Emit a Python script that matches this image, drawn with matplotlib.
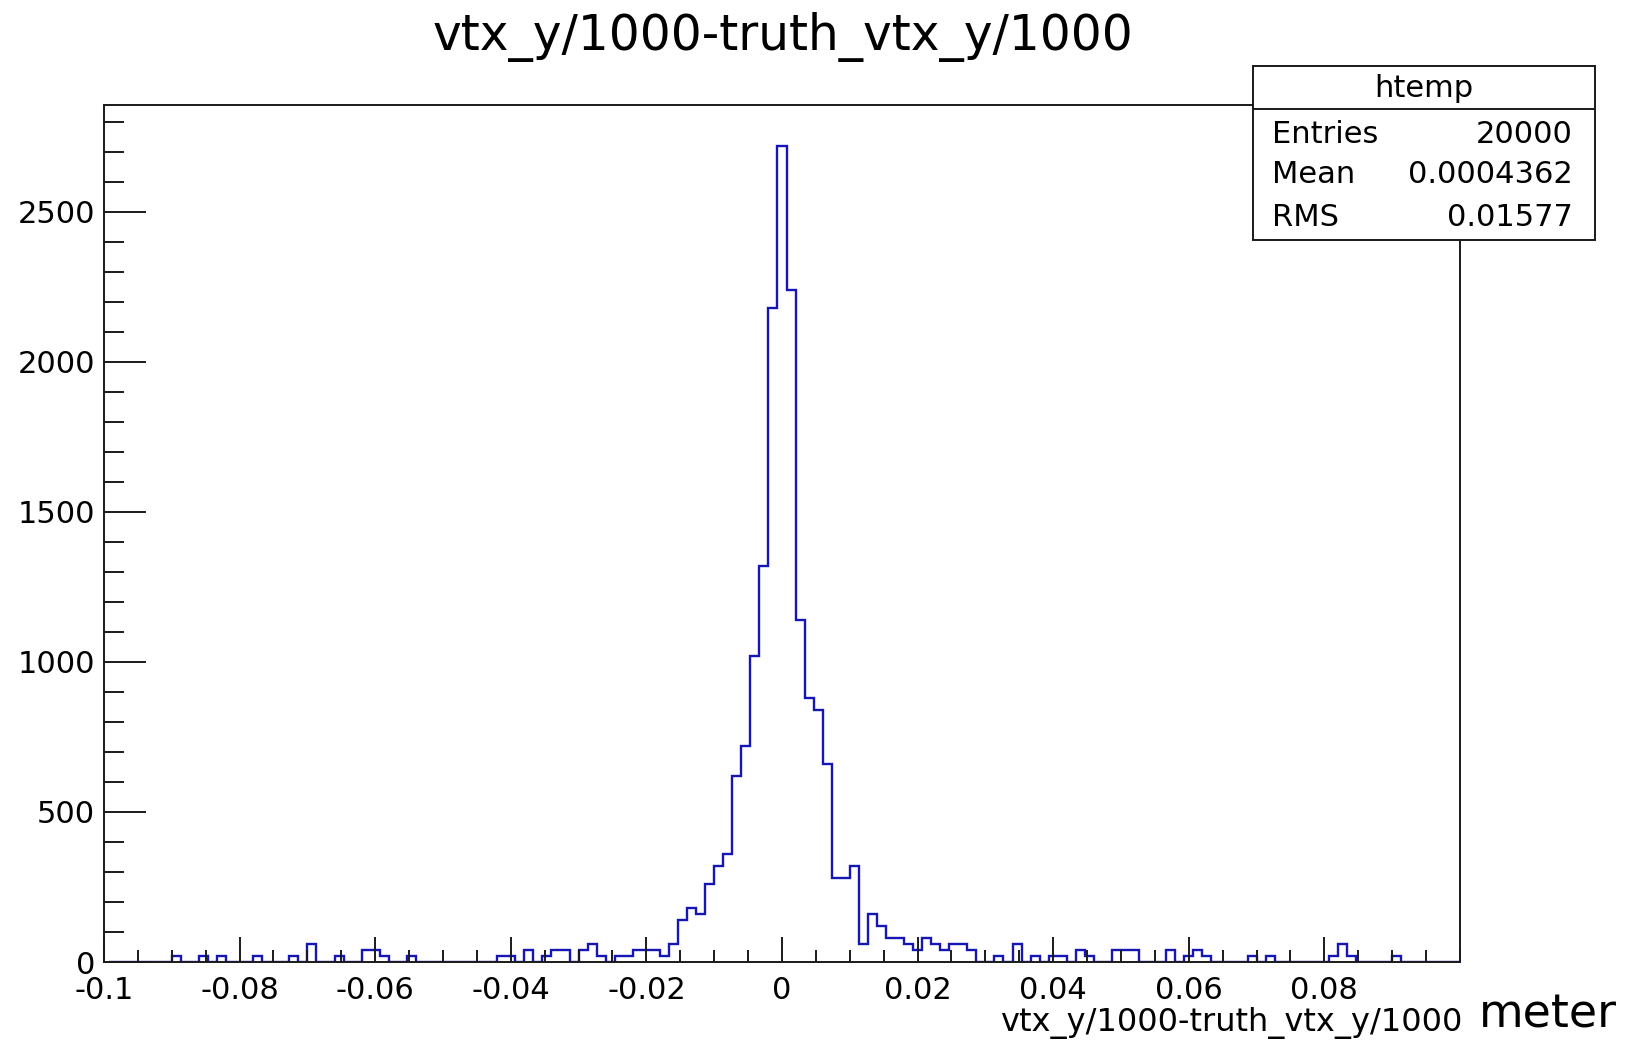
import numpy as np
import matplotlib.pyplot as plt
import matplotlib.ticker as mticker
from matplotlib.patches import Rectangle

# Histogram binning (ROOT htemp); bins sit half a bin to the right of -0.1
x_min, x_max, n_bins = -0.1, 0.1, 150

# bin contents (150 bins, left to right)
counts = [
    0, 0, 0, 0, 0, 0, 0, 20, 0, 0,
    20, 0, 20, 0, 0, 0, 20, 0, 0, 0,
    20, 0, 60, 0, 0, 20, 0, 0, 40, 40,
    20, 0, 0, 20, 0, 0, 0, 0, 0, 0,
    0, 0, 0, 20, 20, 0, 40, 0, 20, 40,
    40, 0, 40, 60, 20, 0, 20, 20, 40, 40,
    40, 20, 60, 140, 180, 160, 260, 320, 360, 620,
    720, 1020, 1320, 2180, 2720, 2240, 1140, 880, 840, 660,
    280, 280, 320, 60, 160, 120, 80, 80, 60, 40,
    80, 60, 40, 60, 60, 40, 0, 0, 20, 0,
    60, 0, 20, 0, 20, 20, 0, 40, 20, 0,
    0, 40, 40, 40, 0, 0, 0, 40, 0, 20,
    40, 20, 0, 0, 0, 0, 20, 0, 20, 0,
    0, 0, 0, 0, 0, 20, 60, 20, 0, 0,
    0, 0, 20, 0, 0, 0, 0, 0, 0, 0,
]

x_ticks = [-0.1, -0.08, -0.06, -0.04, -0.02, 0, 0.02, 0.04, 0.06, 0.08]
x_tick_labels = ["-0.1", "-0.08", "-0.06", "-0.04", "-0.02", "0",
                 "0.02", "0.04", "0.06", "0.08"]
y_ticks = [0, 500, 1000, 1500, 2000, 2500]

title = "vtx_y/1000-truth_vtx_y/1000"
x_label = "vtx_y/1000-truth_vtx_y/1000"
unit_label = "meter"
stats_name = "htemp"
stats_labels = ["Entries", "Mean", "RMS"]
stats_values = ["20000", "0.0004362", "0.01577"]

plt.rcParams.update({
    'font.family': 'DejaVu Sans',
    'axes.unicode_minus': False,
})

W, H = 1628, 1040
fig = plt.figure(figsize=(W / 100, H / 100), dpi=100)

# frame in pixel coords: left 104, right 1460, top 105, bottom 962
ax = fig.add_axes([104 / W, 1 - 962 / H, (1460 - 104) / W, (962 - 105) / H])

bin_w = (x_max - x_min) / n_bins
edges = np.linspace(x_min, x_max, n_bins + 1) + bin_w / 2
ax.stairs(counts, edges, color='#1616b4', linewidth=1.7, baseline=0)

ax.set_xlim(x_min, x_max)
ax.set_ylim(0, max(counts) * 1.05)

ax.set_xticks(x_ticks)
ax.set_xticklabels(x_tick_labels)
ax.xaxis.set_minor_locator(mticker.MultipleLocator(0.005))
ax.set_yticks(y_ticks)
ax.yaxis.set_minor_locator(mticker.MultipleLocator(100))

for sp in ax.spines.values():
    sp.set_linewidth(1.4)
    sp.set_color('#1a1a1a')

ax.tick_params(axis='both', which='both', direction='in', width=1.4,
               color='#1a1a1a', labelsize=22, top=False, right=False)
ax.tick_params(axis='x', which='major', length=18, pad=10)
ax.tick_params(axis='x', which='minor', length=9)
ax.tick_params(axis='y', which='major', length=30, pad=6.5)
ax.tick_params(axis='y', which='minor', length=14.4)

# title and axis labels
fig.text(783 / W, 1 - 50 / H, title, ha='center', va='baseline', fontsize=35)
fig.text(1462 / W, 1 - 1031 / H, x_label, ha='right', va='baseline', fontsize=23)
fig.text(1479 / W, 1 - 1027 / H, unit_label, ha='left', va='baseline', fontsize=33)

# statistics box
bx0, bx1, by_top, by_sep, by_bot = 1253, 1595, 66, 109, 240
fig.patches.append(Rectangle((bx0 / W, 1 - by_bot / H), (bx1 - bx0) / W,
                             (by_bot - by_top) / H, transform=fig.transFigure,
                             facecolor='white', edgecolor='#1a1a1a',
                             linewidth=1.4, zorder=5))
fig.add_artist(plt.Line2D([bx0 / W, bx1 / W], [1 - by_sep / H, 1 - by_sep / H],
                          transform=fig.transFigure, color='#1a1a1a',
                          linewidth=1.4, zorder=6))
fig.text((bx0 + bx1) / 2 / W, 1 - 97 / H, stats_name, ha='center',
         va='baseline', fontsize=22, zorder=7)
row_base = [143, 183, 226]
for lab, val, yb in zip(stats_labels, stats_values, row_base):
    fig.text(1272 / W, 1 - yb / H, lab, ha='left', va='baseline',
             fontsize=22, zorder=7)
    fig.text(1573 / W, 1 - yb / H, val, ha='right', va='baseline',
             fontsize=22, zorder=7)

fig.savefig('out.png', dpi=100)
